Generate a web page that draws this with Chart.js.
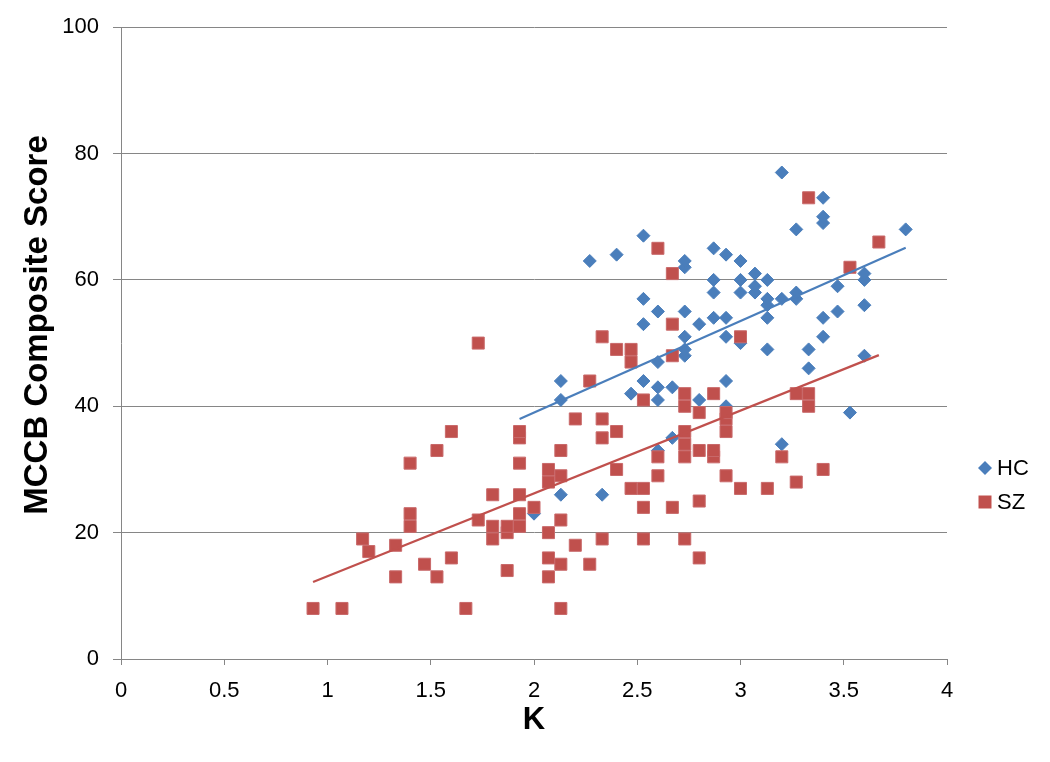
<!DOCTYPE html>
<html>
<head>
<meta charset="utf-8">
<script src="https://cdn.jsdelivr.net/npm/chart.js@4.4.1/dist/chart.umd.min.js"></script>
<style>
  html, body { margin: 0; padding: 0; background: #fff; }
  canvas { display: block; }
</style>
</head>
<body>
<canvas id="chart" width="1050" height="762"></canvas>
<script>
// HC (healthy controls)
const hcX = [2.0, 2.13, 2.13, 2.13, 2.27, 2.33, 2.4, 2.47, 2.53, 2.53, 2.53, 2.53,
  2.6, 2.6, 2.6, 2.6, 2.6, 2.67, 2.67, 2.73, 2.73, 2.73, 2.73, 2.73, 2.73,
  2.8, 2.8, 2.87, 2.87, 2.87, 2.87, 2.93, 2.93, 2.93, 2.93, 2.93,
  3.0, 3.0, 3.0, 3.0, 3.07, 3.07, 3.07, 3.13, 3.13, 3.13, 3.13, 3.13,
  3.2, 3.2, 3.2, 3.27, 3.27, 3.27, 3.33, 3.33, 3.4, 3.4, 3.4, 3.4, 3.4,
  3.47, 3.47, 3.53, 3.6, 3.6, 3.6, 3.6, 3.8];
const hcY = [23, 26, 41, 44, 63, 26, 64, 42, 44, 53, 57, 67,
  33, 41, 43, 47, 55, 35, 43, 48, 49, 51, 55, 62, 63,
  41, 53, 54, 58, 60, 65, 40, 44, 51, 54, 64,
  50, 58, 60, 63, 58, 59, 61, 49, 54, 56, 57, 60,
  34, 57, 77, 57, 58, 68, 46, 49, 51, 54, 69, 70, 73,
  55, 59, 39, 48, 56, 60, 61, 68];

// SZ (schizophrenia)
const szX = [0.93, 1.07, 1.17, 1.2, 1.33, 1.33, 1.4, 1.4, 1.4, 1.47, 1.53, 1.53,
  1.6, 1.6, 1.67, 1.73, 1.73, 1.8, 1.8, 1.8, 1.87, 1.87, 1.87,
  1.93, 1.93, 1.93, 1.93, 1.93, 1.93, 2.0, 2.07, 2.07, 2.07, 2.07, 2.07,
  2.13, 2.13, 2.13, 2.13, 2.13, 2.2, 2.2, 2.27, 2.27, 2.33, 2.33, 2.33, 2.33,
  2.4, 2.4, 2.4, 2.47, 2.47, 2.47, 2.53, 2.53, 2.53, 2.53, 2.6, 2.6, 2.6,
  2.67, 2.67, 2.67, 2.67, 2.73, 2.73, 2.73, 2.73, 2.73, 2.73,
  2.8, 2.8, 2.8, 2.8, 2.87, 2.87, 2.87, 2.93, 2.93, 2.93, 2.93,
  3.0, 3.0, 3.13, 3.2, 3.27, 3.27, 3.33, 3.33, 3.33, 3.4, 3.53, 3.67];
const szY = [8, 8, 19, 17, 13, 18, 21, 23, 31, 15, 13, 33,
  16, 36, 8, 22, 50, 19, 21, 26, 14, 20, 21,
  21, 23, 26, 31, 35, 36, 24, 13, 16, 20, 28, 30,
  8, 15, 22, 29, 33, 18, 38, 15, 44, 19, 35, 38, 51,
  30, 36, 49, 27, 47, 49, 19, 24, 27, 41, 29, 32, 65,
  24, 48, 53, 61, 19, 32, 34, 36, 40, 42,
  16, 25, 33, 39, 32, 33, 42, 29, 36, 38, 39,
  27, 51, 27, 32, 28, 42, 40, 42, 73, 30, 62, 66];

// linear trend lines (end points)
const hcTrendX = [1.93, 3.8];
const hcTrendY = [38.0, 65.1];
const szTrendX = [0.93, 3.67];
const szTrendY = [12.2, 48.1];

const xTicks = [0, 0.5, 1, 1.5, 2, 2.5, 3, 3.5, 4];
const yTicks = [0, 20, 40, 60, 80, 100];

const HC_COLOR = '#4A7EBB';
const SZ_COLOR = '#C0504D';
const GRID = '#868686';
const FONT = 'Liberation Sans, Arial, sans-serif';
const Y_TITLE = 'MCCB Composite Score';

function toPoints(xs, ys) {
  return xs.map((x, i) => ({ x, y: ys[i] }));
}

const legendItems = [
  { label: 'HC', style: 'rectRot', color: HC_COLOR, y: 468 },
  { label: 'SZ', style: 'rect', color: SZ_COLOR, y: 502 }
];

// Excel-style legend on the right, plus the y title (sits a bit above the plot centre)
const sideText = {
  id: 'sideText',
  afterDraw(chart) {
    const ctx = chart.ctx;
    ctx.save();
    legendItems.forEach((item) => {
      const cx = 985;
      ctx.fillStyle = item.color;
      ctx.beginPath();
      if (item.style === 'rectRot') {
        ctx.moveTo(cx, item.y - 7);
        ctx.lineTo(cx + 7, item.y);
        ctx.lineTo(cx, item.y + 7);
        ctx.lineTo(cx - 7, item.y);
      } else {
        ctx.rect(cx - 6.5, item.y - 6.5, 13, 13);
      }
      ctx.closePath();
      ctx.fill();
      ctx.fillStyle = '#000';
      ctx.font = '22px ' + FONT;
      ctx.textBaseline = 'middle';
      ctx.textAlign = 'left';
      ctx.fillText(item.label, 997, item.y + 1);
    });

    ctx.translate(38, 325);
    ctx.rotate(-Math.PI / 2);
    ctx.font = 'bold 33px ' + FONT;
    ctx.textAlign = 'center';
    ctx.textBaseline = 'middle';
    ctx.fillStyle = '#000';
    ctx.fillText(Y_TITLE, 0, 0);
    ctx.restore();
  }
};

new Chart(document.getElementById('chart'), {
  type: 'scatter',
  data: {
    datasets: [
      {
        type: 'line',
        label: 'HC trend',
        data: toPoints(hcTrendX, hcTrendY),
        borderColor: HC_COLOR,
        borderWidth: 2.2,
        pointRadius: 0,
        fill: false,
        order: 0
      },
      {
        type: 'line',
        label: 'SZ trend',
        data: toPoints(szTrendX, szTrendY),
        borderColor: SZ_COLOR,
        borderWidth: 2.2,
        pointRadius: 0,
        fill: false,
        order: 0
      },
      {
        label: 'SZ',
        data: toPoints(szX, szY),
        pointStyle: 'rect',
        pointRadius: 8.5,
        backgroundColor: SZ_COLOR,
        borderColor: '#C9696A',
        borderWidth: 1,
        order: 1
      },
      {
        label: 'HC',
        data: toPoints(hcX, hcY),
        pointStyle: 'rectRot',
        pointRadius: 6.5,
        backgroundColor: HC_COLOR,
        borderColor: HC_COLOR,
        borderWidth: 1,
        order: 2
      }
    ]
  },
  options: {
    responsive: false,
    animation: false,
    devicePixelRatio: 1,
    layout: { padding: { top: 21, right: 103, left: 0, bottom: 0 } },
    plugins: {
      legend: { display: false },
      tooltip: { enabled: false }
    },
    scales: {
      x: {
        type: 'linear',
        min: 0,
        max: 4,
        afterBuildTicks: (scale) => { scale.ticks = xTicks.map((v) => ({ value: v })); },
        afterFit: (scale) => { scale.height = 103; },
        ticks: {
          color: '#000',
          font: { family: FONT, size: 22 },
          padding: 13,
          maxRotation: 0,
          callback: (value) => String(value)
        },
        grid: { drawOnChartArea: false, drawTicks: true, tickLength: 6, color: GRID },
        border: { color: GRID, width: 1 },
        title: {
          display: true,
          text: 'K',
          color: '#000',
          font: { family: FONT, size: 31, weight: 'bold' },
          padding: { bottom: 23 }
        }
      },
      y: {
        min: 0,
        max: 100,
        afterBuildTicks: (scale) => { scale.ticks = yTicks.map((v) => ({ value: v })); },
        afterFit: (scale) => { scale.width = 121; },
        ticks: {
          color: '#000',
          font: { family: FONT, size: 22 },
          padding: 14,
          callback: (value) => String(value)
        },
        grid: { color: GRID, lineWidth: 1, drawTicks: true, tickLength: 8 },
        border: { color: GRID, width: 1 },
        title: { display: false }
      }
    }
  },
  plugins: [sideText]
});
</script>
</body>
</html>
